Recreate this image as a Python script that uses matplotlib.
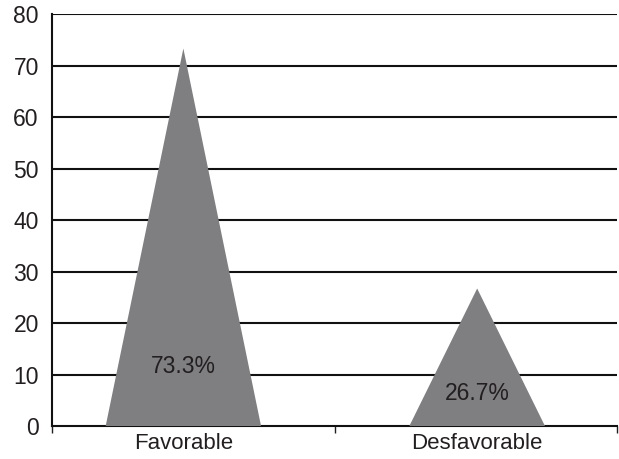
import matplotlib
matplotlib.use("Agg")
import matplotlib.pyplot as plt
from matplotlib.patches import Polygon

categories = ["Favorable", "Desfavorable"]
values = [73.3, 26.7]
labels = ["73.3%", "26.7%"]
yticks = [0, 10, 20, 30, 40, 50, 60, 70, 80]

# style / layout
centers = [0.465, 1.505]
half_widths = [0.275, 0.24]
label_y = [11.5, 6.4]
fill = "#7f7f81"
txt = "#231f20"

plt.rcParams["font.family"] = ["Liberation Sans", "DejaVu Sans"]

fig = plt.figure(figsize=(6.19, 4.59), dpi=100)
ax = fig.add_axes([52 / 619, 1 - 426 / 459, (617 - 52) / 619, (426 - 14) / 459])

for c, hw, v, lab, ly in zip(centers, half_widths, values, labels, label_y):
    tri = Polygon([(c - hw, 0), (c + hw, 0), (c, v)], closed=True,
                  facecolor=fill, edgecolor="none", zorder=3)
    ax.add_patch(tri)
    ax.text(c, ly, lab, ha="center", va="center", fontsize=16.5, color=txt, zorder=4)

ax.set_xlim(0, 2)
ax.set_ylim(0, 80)
ax.set_yticks(yticks)
ax.set_yticklabels([str(t) for t in yticks], fontsize=16.5, color=txt)
ax.tick_params(axis="y", length=0, pad=9.5)

ax.set_xticks(centers)
ax.set_xticklabels(categories, fontsize=16, color=txt)
ax.tick_params(axis="x", which="major", length=0, pad=5)
ax.set_xticks([0, 1, 2], minor=True)
ax.tick_params(axis="x", which="minor", length=5, width=1, color="#231f20")

for t in yticks[1:]:
    ax.axhline(t, color="#111111", linewidth=1.5, zorder=2)

for s in ["top", "right"]:
    ax.spines[s].set_visible(False)
for s in ["left", "bottom"]:
    ax.spines[s].set_color("#111111")
    ax.spines[s].set_linewidth(1.5)

fig.savefig("out.png", dpi=100)
